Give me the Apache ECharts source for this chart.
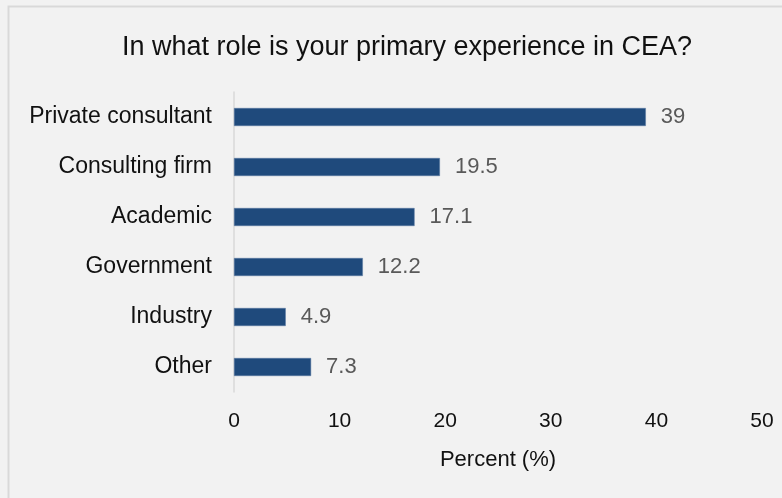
<!DOCTYPE html>
<html>
<head>
<meta charset="utf-8">
<script src="https://cdn.jsdelivr.net/npm/echarts@6/dist/echarts.min.js"></script>
<style>
  html, body { margin: 0; padding: 0; background: #f2f2f2; }
  #chart { width: 782px; height: 498px; }
</style>
</head>
<body>
<div id="chart"></div>
<script>
// Survey answers, top to bottom
const categories = ['Private consultant', 'Consulting firm', 'Academic', 'Government', 'Industry', 'Other'];
const percents = [39, 19.5, 17.1, 12.2, 4.9, 7.3];
const xTicks = [0, 10, 20, 30, 40, 50];

const FONT = '"Liberation Sans", Arial, sans-serif';

const chart = echarts.init(document.getElementById('chart'));
chart.setOption({
  backgroundColor: '#f2f2f2',
  animation: false,
  title: {
    text: 'In what role is your primary experience in CEA?',
    left: 402,
    textAlign: 'center',
    top: 29,
    textStyle: { fontFamily: FONT, fontSize: 27, fontWeight: 'normal', color: '#111' }
  },
  graphic: [{
    type: 'polyline',
    shape: { points: [[8.5, 520], [8.5, 6.5], [800, 6.5]] },
    style: { stroke: '#d9d9d9', lineWidth: 2, fill: null },
    silent: true
  }],
  grid: { left: 234, right: 20, top: 92, bottom: 106, containLabel: false },
  xAxis: {
    type: 'value',
    min: xTicks[0],
    max: xTicks[xTicks.length - 1],
    interval: 10,
    name: 'Percent (%)',
    nameLocation: 'middle',
    nameGap: 57,
    nameTextStyle: { fontFamily: FONT, fontSize: 22, color: '#111' },
    axisLine: { show: false },
    axisTick: { show: false },
    splitLine: { show: false },
    axisLabel: { fontFamily: FONT, fontSize: 21, color: '#111', margin: 19 }
  },
  yAxis: {
    type: 'category',
    data: categories,
    inverse: true,
    axisLine: { show: true, lineStyle: { color: '#d9d9d9', width: 1.5 } },
    axisTick: { show: false },
    axisLabel: { fontFamily: FONT, fontSize: 23, color: '#111', margin: 22 }
  },
  series: [{
    type: 'bar',
    data: percents,
    barWidth: 18,
    itemStyle: { color: '#1f4a7c', borderColor: '#5a7aa3', borderWidth: 0.5 },
    label: {
      show: true,
      position: 'right',
      distance: 15,
      fontFamily: FONT,
      fontSize: 22,
      color: '#595959'
    }
  }]
});
</script>
</body>
</html>
